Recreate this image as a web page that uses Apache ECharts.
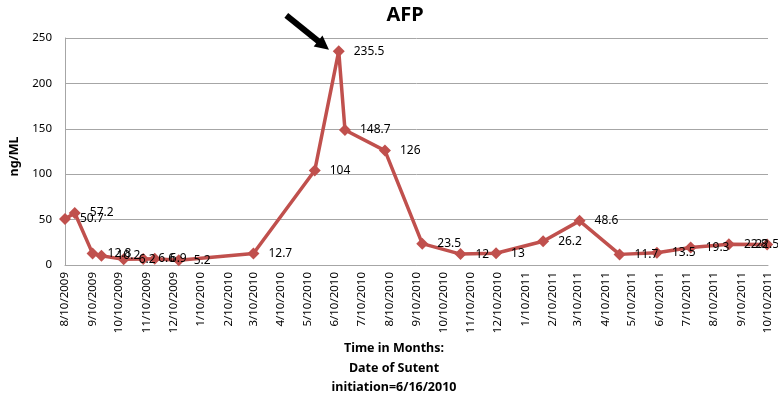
<!DOCTYPE html>
<html>
<head>
<meta charset="utf-8">
<script src="https://cdn.jsdelivr.net/npm/echarts@6/dist/echarts.min.js"></script>
<style>
  html, body { margin: 0; padding: 0; background: #fff; }
  #main { width: 778px; height: 407px; }
</style>
</head>
<body>
<div id="main"></div>
<script>
// measurement dates and AFP values (ng/ML)
var dates = ['2009-08-10', '2009-08-21', '2009-09-10', '2009-09-20', '2009-10-15', '2009-11-06',
    '2009-11-19', '2009-12-16', '2010-03-10', '2010-05-18', '2010-06-14', '2010-06-21',
    '2010-08-05', '2010-09-16', '2010-10-29', '2010-12-08', '2011-01-30', '2011-03-12',
    '2011-04-26', '2011-06-07', '2011-07-15', '2011-08-27', '2011-10-09'];
var afp = [50.7, 57.2, 12.8, 10.2, 6.2, 6.6, 6.9, 5.2, 12.7, 104, 235.5, 148.7,
    126, 23.5, 12, 13, 26.2, 48.6, 11.7, 13.5, 19.3, 22.8, 22.5];

// x tick labels (month/day/year)
var tickLabels = ['8/10/2009', '9/10/2009', '10/10/2009', '11/10/2009', '12/10/2009',
    '1/10/2010', '2/10/2010', '3/10/2010', '4/10/2010', '5/10/2010', '6/10/2010',
    '7/10/2010', '8/10/2010', '9/10/2010', '10/10/2010', '11/10/2010', '12/10/2010',
    '1/10/2011', '2/10/2011', '3/10/2011', '4/10/2011', '5/10/2011', '6/10/2011',
    '7/10/2011', '8/10/2011', '9/10/2011', '10/10/2011'];

var yTicks = [0, 50, 100, 150, 200, 250];

// arrow pointing at the peak (data coords: date, value)
var arrowTail = ['2010-04-16', 275];
var arrowTip = ['2010-06-03', 237];

// days since 8/10/2009, so the x axis is a plain value axis
var DAY = 24 * 3600 * 1000;
var origin = Date.UTC(2009, 7, 10);
function isoDay(s) {
    var p = s.split('-');
    return Math.round((Date.UTC(+p[0], +p[1] - 1, +p[2]) - origin) / DAY);
}
function mdyDay(s) {
    var p = s.split('/');
    return Math.round((Date.UTC(+p[2], +p[0] - 1, +p[1]) - origin) / DAY);
}

var tickDays = tickLabels.map(mdyDay);
var labelByDay = {};
tickDays.forEach(function (t, i) { labelByDay[t] = tickLabels[i]; });

var seriesData = dates.map(function (d, i) {
    var item = { value: [isoDay(d), afp[i]] };
    if (i === dates.length - 1) {
        item.label = { position: 'inside', offset: [-4, 0] };
    }
    return item;
});

var myChart = echarts.init(document.getElementById('main'));

var FONT = 'Noto Sans';
var gridColor = '#a6a6a6';

option = {
    animation: false,
    textStyle: { fontFamily: FONT },
    title: [
        {
            text: 'AFP',
            left: 400,
            top: 0,
            textAlign: 'center',
            textStyle: { fontFamily: FONT, fontSize: 20, fontWeight: 'bold', color: '#000' }
        },
        {
            text: 'Time in Months:\nDate of Sutent\ninitiation=6/16/2010',
            left: 389,
            top: 334,
            textAlign: 'center',
            textStyle: { fontFamily: FONT, fontSize: 12.5, fontWeight: 'bold', color: '#000', lineHeight: 19.5 }
        }
    ],
    grid: {
        left: 63,
        right: 10,
        top: 38,
        bottom: 142
    },
    xAxis: {
        type: 'value',
        min: tickDays[0],
        max: tickDays[tickDays.length - 1],
        axisLine: { show: true, onZero: false, lineStyle: { color: gridColor, width: 1 } },
        axisTick: { show: false },
        splitLine: { show: false },
        axisLabel: {
            customValues: tickDays,
            rotate: 90,
            margin: 7,
            fontSize: 11.5,
            color: '#000',
            hideOverlap: false,
            formatter: function (val) {
                return labelByDay[val] || '';
            }
        }
    },
    yAxis: {
        type: 'value',
        min: yTicks[0],
        max: yTicks[yTicks.length - 1],
        interval: 50,
        name: 'ng/ML',
        nameLocation: 'middle',
        nameGap: 44,
        nameTextStyle: { fontFamily: FONT, fontSize: 12.5, fontWeight: 'bold', color: '#000', padding: [0, 10, 0, 0] },
        axisLine: { show: true, lineStyle: { color: gridColor, width: 1 } },
        axisTick: { show: false },
        splitLine: { lineStyle: { color: gridColor, width: 1 } },
        axisLabel: { fontSize: 11.5, color: '#000', margin: 13 }
    },
    series: [
        {
            name: 'AFP',
            type: 'line',
            data: seriesData,
            symbol: 'diamond',
            symbolSize: 12,
            clip: false,
            lineStyle: { color: '#c0504d', width: 3.5 },
            itemStyle: { color: '#c0504d' },
            label: {
                show: true,
                position: 'right',
                distance: 9,
                fontSize: 12,
                color: '#000',
                formatter: function (p) { return p.value[1]; }
            },
            labelLayout: { hideOverlap: false }
        }
    ]
};

myChart.setOption(option);

// arrow annotation, positioned through the chart's own axes
function drawArrow() {
    var tail = myChart.convertToPixel({ seriesIndex: 0 }, [isoDay(arrowTail[0]), arrowTail[1]]);
    var tip = myChart.convertToPixel({ seriesIndex: 0 }, [isoDay(arrowTip[0]), arrowTip[1]]);
    var dx = tip[0] - tail[0], dy = tip[1] - tail[1];
    var len = Math.sqrt(dx * dx + dy * dy);
    var ux = dx / len, uy = dy / len;
    var headLen = 14, headHalf = 7;
    var base = [tip[0] - ux * headLen, tip[1] - uy * headLen];
    myChart.setOption({
        graphic: [
            {
                type: 'line',
                shape: { x1: tail[0], y1: tail[1], x2: base[0] + ux, y2: base[1] + uy },
                style: { stroke: '#000', lineWidth: 6 }
            },
            {
                type: 'polygon',
                shape: {
                    points: [
                        tip,
                        [base[0] - uy * headHalf, base[1] + ux * headHalf],
                        [base[0] + uy * headHalf, base[1] - ux * headHalf]
                    ]
                },
                style: { fill: '#000' }
            }
        ]
    });
}
drawArrow();
</script>
</body>
</html>
